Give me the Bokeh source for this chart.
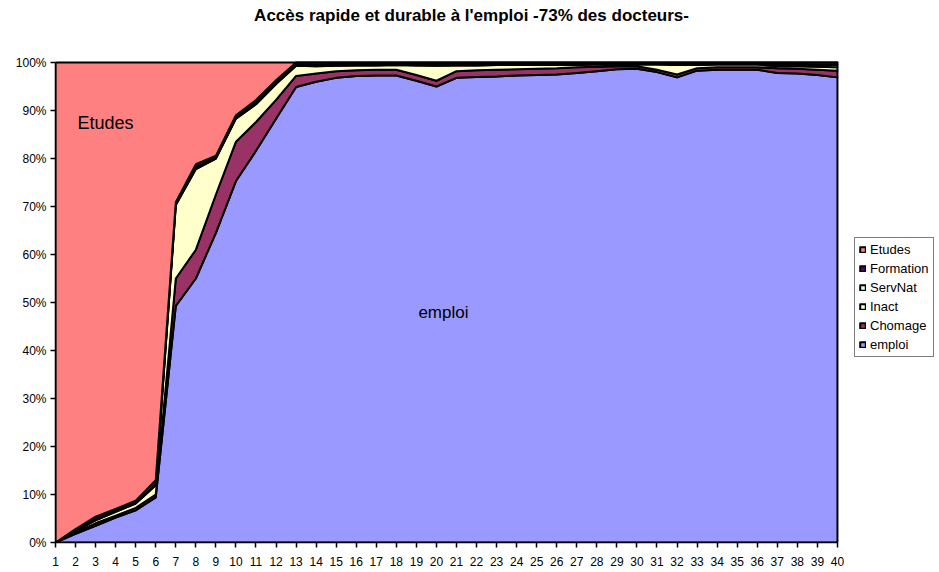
import numpy as np
from bokeh.plotting import figure
from bokeh.models import (Range1d, FixedTicker, NumeralTickFormatter, Legend, LegendItem, Label)
from bokeh.embed import file_html
from bokeh.resources import INLINE

x = list(range(1, 41))

emploi = [0, 1.8, 3.5, 5.2, 6.7, 9.4, 49.3, 55.0, 64.5, 75.3, 81.6, 88.3, 94.9, 96.0, 96.8, 97.2,
          97.3, 97.3, 96.2, 95.0, 96.8, 97.0, 97.1, 97.3, 97.4, 97.5, 97.8, 98.2, 98.6, 98.7,
          98.0, 96.9, 98.3, 98.5, 98.5, 98.5, 97.8, 97.7, 97.4, 96.9]
chomage = [0, 0.3, 0.5, 0.4, 0.5, 0.6, 5.7, 6.0, 8.0, 8.2, 6.0, 3.9, 2.3, 1.7, 1.4, 1.2,
           1.2, 1.2, 1.2, 1.2, 1.4, 1.4, 1.4, 1.3, 1.3, 1.3, 1.2, 0.9, 0.6, 0.5,
           0.5, 0.6, 0.5, 0.5, 0.5, 0.5, 1.0, 1.0, 1.1, 1.4]
inact = [0, 0.3, 0.6, 0.8, 0.9, 1.9, 15.3, 16.8, 7.5, 4.8, 3.7, 3.3, 2.1, 1.5, 1.1, 1.0,
         0.9, 1.0, 2.0, 3.1, 1.2, 1.0, 1.0, 0.9, 0.8, 0.7, 0.5, 0.5, 0.4, 0.4,
         1.1, 2.0, 0.7, 0.6, 0.6, 0.6, 0.4, 0.5, 0.6, 0.7]
servnat = [0, 0.1, 0.2, 0.2, 0.1, 0.2, 0.2, 0.4, 0.2, 0.2, 0.3, 0.3, 0.3, 0.3, 0.3, 0.3,
           0.3, 0.2, 0.3, 0.3, 0.3, 0.3, 0.2, 0.2, 0.2, 0.2, 0.2, 0.2, 0.2, 0.2,
           0.2, 0.2, 0.2, 0.2, 0.2, 0.2, 0.4, 0.4, 0.4, 0.5]
formation = [0, 0.3, 0.6, 0.4, 0.5, 0.9, 0.4, 0.6, 0.4, 0.5, 0.6, 0.5, 0.4, 0.5, 0.4, 0.3,
             0.3, 0.3, 0.3, 0.4, 0.3, 0.3, 0.3, 0.3, 0.3, 0.3, 0.3, 0.2, 0.2, 0.2,
             0.2, 0.3, 0.3, 0.2, 0.2, 0.2, 0.4, 0.4, 0.5, 0.5]
etudes = [100, 97.2, 94.6, 93.0, 91.3, 87.0, 29.1, 21.2, 19.4, 11.0, 7.8, 3.7, 0, 0, 0, 0,
          0, 0, 0, 0, 0, 0, 0, 0, 0, 0, 0, 0, 0, 0,
          0, 0, 0, 0, 0, 0, 0, 0, 0, 0]

series = [("emploi", emploi, "#9999FF"),
          ("Chomage", chomage, "#993366"),
          ("Inact", inact, "#FFFFCC"),
          ("ServNat", servnat, "#CCFFFF"),
          ("Formation", formation, "#660066"),
          ("Etudes", etudes, "#FF8080")]

FONT = "Liberation Sans"

# frame spans the full width right of the y axis; the legend and title live inside it
p = figure(width=939, height=572, output_backend="svg", toolbar_location=None,
           x_range=Range1d(1, 45.09), y_range=Range1d(0, 1.12917),
           min_border_left=55, min_border_right=0, min_border_top=0, min_border_bottom=30)
p.outline_line_color = None
p.xgrid.visible = False
p.ygrid.visible = False
p.background_fill_color = "white"
p.border_fill_color = "white"

xs = np.array(x, dtype=float)
bottom = np.zeros(len(x))
renderers = {}
for name, vals, color in series:
    top = bottom + np.array(vals) / 100.0
    px = np.concatenate([xs, xs[::-1]])
    py = np.concatenate([top, bottom[::-1]])
    r = p.patch(px, py, fill_color=color, line_color="black", line_width=2, line_join="round")
    renderers[name] = r
    bottom = top

legend_order = ["Etudes", "Formation", "ServNat", "Inact", "Chomage", "emploi"]
legend = Legend(items=[LegendItem(label=n, renderers=[renderers[n]]) for n in legend_order],
                location=(799, 185), margin=0, padding=4, spacing=4,
                glyph_width=7, glyph_height=7, label_height=15, label_standoff=4,
                label_text_font=FONT, label_text_font_size="13px", label_text_color="black",
                border_line_color="black", border_line_width=1, background_fill_alpha=1)
p.add_layout(legend)

p.xaxis.ticker = FixedTicker(ticks=x)
p.xaxis.bounds = (1, 40)
p.yaxis.ticker = FixedTicker(ticks=[i / 10 for i in range(11)])
p.yaxis.bounds = (0, 1)
p.yaxis.formatter = NumeralTickFormatter(format="0%")
for ax in (p.xaxis[0], p.yaxis[0]):
    ax.axis_line_color = "black"
    ax.axis_line_width = 1.5
    ax.major_tick_line_color = "black"
    ax.major_tick_line_width = 1.5
    ax.major_tick_in = 0
    ax.major_tick_out = 5
    ax.minor_tick_line_color = None
    ax.major_label_text_font = FONT
    ax.major_label_text_font_size = "12px"
    ax.major_label_text_color = "black"
p.yaxis.major_label_standoff = 4
p.xaxis.major_label_standoff = 9

p.add_layout(Label(x=21.75, y=1.098, text="Accès rapide et durable à l'emploi -73% des docteurs-",
                   text_font=FONT, text_font_size="17px", text_font_style="bold",
                   text_align="center", text_baseline="middle", text_color="black"))
p.add_layout(Label(x=2.1, y=0.873, text="Etudes", text_font=FONT, text_font_size="18px",
                   text_align="left", text_baseline="alphabetic", text_color="black"))
p.add_layout(Label(x=19.1, y=0.48, text="emploi", text_font=FONT, text_font_size="17px",
                   text_align="left", text_baseline="alphabetic", text_color="black"))

open("out.html", "w").write(file_html(p, INLINE))
